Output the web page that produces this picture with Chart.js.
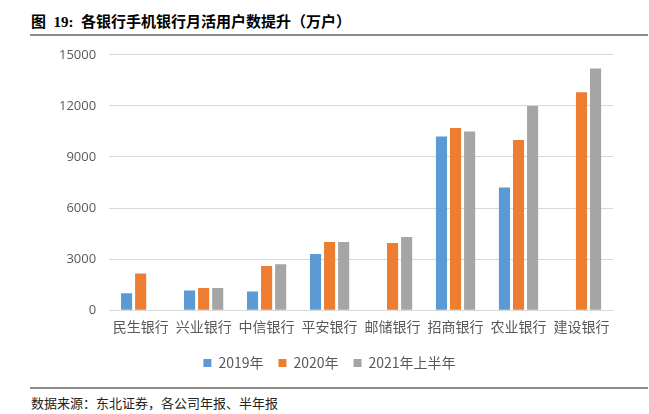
<!DOCTYPE html>
<html>
<head>
<meta charset="utf-8">
<script src="https://cdn.jsdelivr.net/npm/chart.js@4"></script>
<style>
  body { margin: 0; background: #fff; width: 649px; height: 414px; position: relative; overflow: hidden; }
  #title { position: absolute; left: 31px; top: 10px; font: bold 15px "Liberation Serif", "Noto Sans CJK SC", serif; color: #000; white-space: nowrap; }
  .rule { position: absolute; left: 30px; width: 618px; height: 2px; background: #8c8c8c; }
  #foot { position: absolute; left: 31px; top: 393px; font: 13px "Noto Sans CJK SC", sans-serif; color: #222; white-space: nowrap; }
  #wrap { position: absolute; left: 0; top: 34px; width: 649px; height: 346px; }
</style>
</head>
<body>
<div id="title">图&nbsp; 19:&nbsp; 各银行手机银行月活用户数提升（万户）</div>
<div class="rule" style="top:34px"></div>
<div id="wrap"><canvas id="barChart"></canvas></div>
<div class="rule" style="top:387px"></div>
<div id="foot">数据来源：东北证券，各公司年报、半年报</div>
<script>
const banks = ['民生银行', '兴业银行', '中信银行', '平安银行', '邮储银行', '招商银行', '农业银行', '建设银行'];
const seriesNames = ['2019年', '2020年', '2021年上半年'];
const y2019 = [1000, 1150, 1100, 3300, null, 10200, 7200, null];
const y2020 = [2150, 1300, 2600, 4000, 3950, 10700, 10000, 12800];
const y2021H1 = [null, 1300, 2700, 4000, 4300, 10500, 12000, 14200];
const yTicks = [0, 3000, 6000, 9000, 12000, 15000];

const colors = ['#5B9BD5', '#ED7D31', '#A5A5A5'];

document.addEventListener("DOMContentLoaded", function() {
    const ctx = document.getElementById('barChart').getContext('2d');
    new Chart(ctx, {
        type: 'bar',
        data: {
            labels: banks,
            datasets: [y2019, y2020, y2021H1].map(function(vals, i) {
                return {
                    label: seriesNames[i],
                    data: vals,
                    backgroundColor: colors[i],
                    borderWidth: 0,
                    categoryPercentage: 0.67,
                    barPercentage: 0.79
                };
            })
        },
        options: {
            responsive: true,
            maintainAspectRatio: false,
            animation: false,
            layout: { padding: { left: 46, right: 36, top: 0, bottom: 0 } },
            plugins: {
                tooltip: { enabled: false },
                legend: {
                    position: 'bottom',
                    labels: {
                        usePointStyle: true,
                        pointStyle: 'rect',
                        boxWidth: 8,
                        boxHeight: 8,
                        padding: 15,
                        color: '#595959',
                        font: { family: '"Noto Sans CJK SC", sans-serif', size: 14 }
                    }
                }
            },
            scales: {
                x: {
                    grid: { display: false },
                    border: { color: '#D9D9D9', width: 1 },
                    // extra room under the bank names, keeps the legend gaps tight
                    afterFit: function(scale) { scale.height += 6; },
                    ticks: {
                        color: '#595959',
                        maxRotation: 0,
                        padding: 0,
                        font: { family: '"Noto Sans CJK SC", sans-serif', size: 14 }
                    }
                },
                y: {
                    min: 0,
                    max: 15000,
                    afterBuildTicks: function(axis) {
                        axis.ticks = yTicks.map(function(v) { return { value: v }; });
                    },
                    grid: { color: '#D9D9D9', lineWidth: 1, drawTicks: false },
                    border: { display: false },
                    ticks: {
                        color: '#595959',
                        padding: 13,
                        font: { family: '"Open Sans", sans-serif', size: 13 },
                        callback: function(v) { return String(v); }
                    }
                }
            }
        }
    });
});
</script>
</body>
</html>
